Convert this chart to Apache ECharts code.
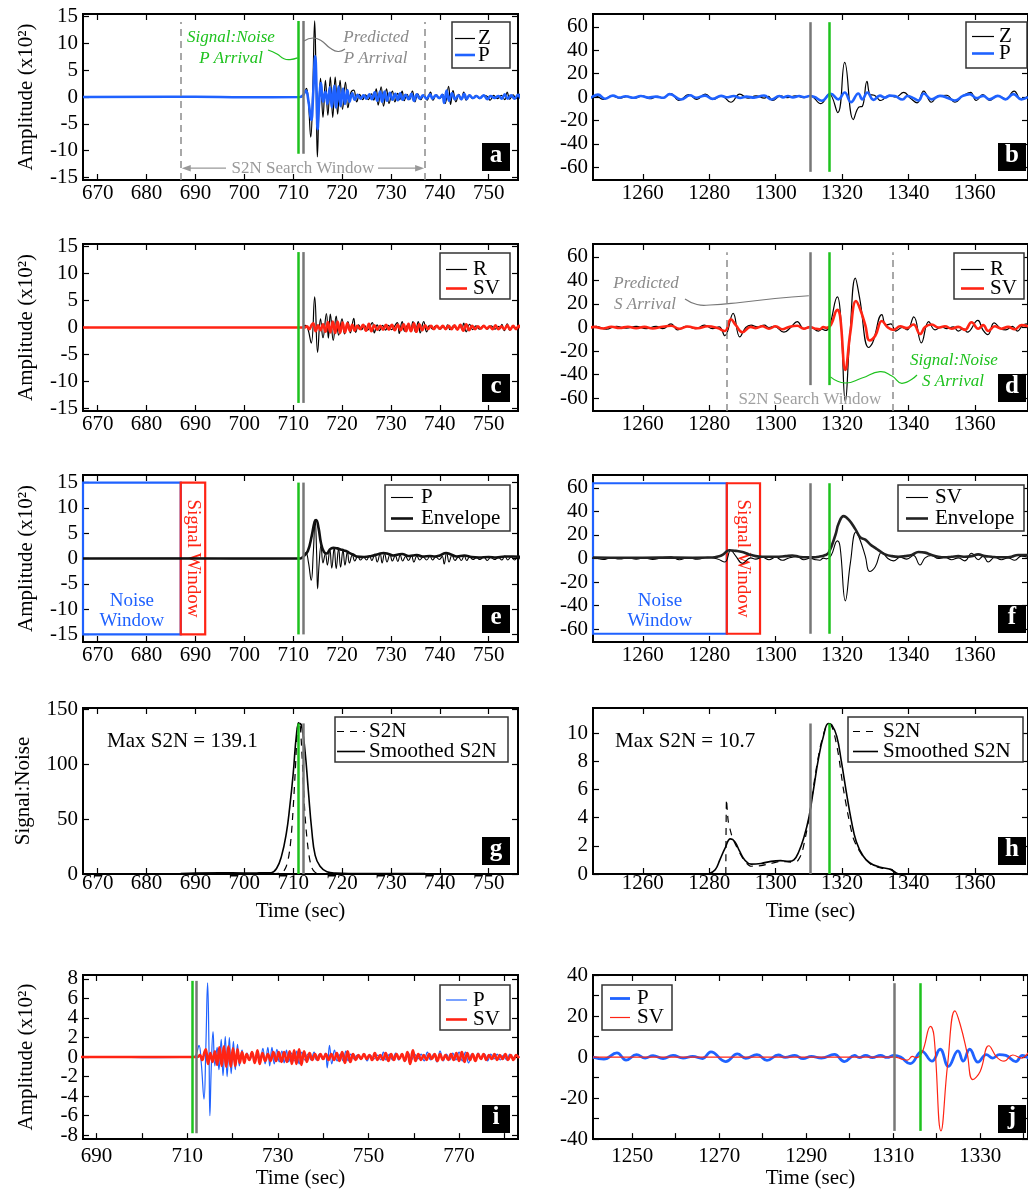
<!DOCTYPE html>
<html>
<head>
<meta charset="utf-8">
<title>P and SV signal-to-noise arrival picks</title>
<script src="https://cdn.jsdelivr.net/npm/echarts@6/dist/echarts.min.js"></script>
<style>
  html, body { margin: 0; padding: 0; background: #fff; }
  #chart { width: 1028px; height: 1190px; }
</style>
</head>
<body>
<div id="chart"></div>
<script>
// ---------------------------------------------------------------------------
// Arrival times and windows (seconds)
// ---------------------------------------------------------------------------
const pPredicted = 712.0;      // predicted P arrival
const pPicked = 711.1;         // signal:noise P arrival
const sPredicted = 1310.3;     // predicted S arrival
const sPicked = 1316.2;        // signal:noise S arrival
const pSearchWindow = [687, 737];
const sSearchWindow = [1285.3, 1335.3];
const pNoiseWindow = [667, 687];
const pSignalWindow = [687, 692];
const sNoiseWindow = [1245, 1285.3];
const sSignalWindow = [1285.3, 1295.3];
const maxS2NP = 139.1;
const maxS2NS = 10.7;

// ---------------------------------------------------------------------------
// Tick values
// ---------------------------------------------------------------------------
const pTimeTicks = [670, 680, 690, 700, 710, 720, 730, 740, 750];
const sTimeTicks = [1260, 1280, 1300, 1320, 1340, 1360];
const pLongTimeTicks = [690, 700, 710, 720, 730, 740, 750, 760, 770, 780];
const pLongTimeLabels = [690, 710, 730, 750, 770];
const sShortTimeTicks = [1250, 1260, 1270, 1280, 1290, 1300, 1310, 1320, 1330, 1340];
const sShortTimeLabels = [1250, 1270, 1290, 1310, 1330];
const ampTicksP = [-15, -10, -5, 0, 5, 10, 15];
const ampTicksS = [-60, -40, -20, 0, 20, 40, 60];
const s2nTicksP = [0, 50, 100, 150];
const s2nTicksS = [0, 2, 4, 6, 8, 10];
const ampTicksRotP = [-8, -6, -4, -2, 0, 2, 4, 6, 8];
const ampLabelsRotP = [-8, -4, 0, 4, 8];
const ampLabelsRotPOdd = [-6, -2, 2, 6];
const ampTicksRotS = [-40, -30, -20, -10, 0, 10, 20, 30, 40];
const ampLabelsRotS = [-40, -20, 0, 20, 40];

// ---------------------------------------------------------------------------
// Traces around the P arrival: [time (s), amplitude (x10^2)]
// ---------------------------------------------------------------------------
const zP = [[667,0],[690,0],[711.5,0],[712.1,0.3],[712.7,1.6],[713.1,-0.8],[713.6,-7.5],[714.0,1.0],[714.4,14.2],[714.7,2.0],[714.95,-11.2],[715.3,-1.0],[715.6,3.5],[716.1,-3.8],[716.6,3.1],[717.1,-3.4],[717.6,3.7],[718.1,-3.8],[718.6,3.7],[719.1,-3.2],[719.6,3.1],[720.1,-2.3],[720.7,2.8],[721.2,-2.0],[721.8,0.8],[722.4,1.3],[723.0,-0.9],[723.6,0.5],[724.2,-0.5],[724.8,0.4],[725.4,-0.5],[726.0,0.6],[726.5,-0.6],[727.0,1.5],[727.4,-1.5],[728.0,1.9],[728.5,-1.7],[729.1,1.5],[729.6,-1.2],[730.3,1.1],[730.8,-0.9],[731.4,0.7],[731.8,-0.5],[732.3,1.1],[732.7,-0.7],[733.3,0.5],[733.8,-0.5],[734.4,1.1],[734.9,-0.9],[735.5,0.6],[736.1,-0.5],[736.8,0.4],[737.4,-0.6],[738.1,0.9],[738.6,-0.6],[739.3,0.4],[740.0,-0.3],[740.6,0.5],[741.1,-1.2],[741.8,2.0],[742.2,-1.4],[742.7,1.2],[743.3,-0.9],[743.9,0.5],[744.4,-0.5],[744.9,0.9],[745.4,-0.6],[746.0,0.4],[746.7,-0.3],[747.4,0.3],[748.1,-0.3],[748.9,0.3],[749.6,0.2],[750.3,-0.6],[751.0,0.3],[751.8,-0.3],[752.6,0.3],[753.3,-0.5],[753.8,0.9],[754.3,-0.4],[755.0,0.4],[755.6,-0.3],[756.3,0.5],[757,-0.2]];

const pComp = [[667,0],[690,0.05],[700,-0.05],[711.4,0],[712.0,0.3],[712.6,1.2],[713.1,-0.6],[713.7,-4.3],[714.1,0.8],[714.5,7.6],[714.8,1.0],[715.0,-6.0],[715.3,-1.2],[715.7,2.6],[716.1,-0.9],[716.6,1.0],[717.0,-1.3],[717.5,1.8],[717.9,-1.9],[718.4,2.1],[718.8,-2.0],[719.3,2.0],[719.7,-1.7],[720.2,1.6],[720.6,-1.3],[721.1,1.3],[721.5,-0.9],[722.1,0.7],[722.6,-0.5],[723.2,0.4],[723.8,-0.3],[724.4,0.3],[725.0,-0.3],[725.6,0.5],[726.1,-0.4],[726.7,0.9],[727.2,-0.7],[727.8,1.0],[728.2,-0.9],[728.7,1.0],[729.2,-0.7],[729.8,0.8],[730.3,-0.5],[730.9,0.6],[731.4,-0.6],[731.9,0.7],[732.4,-0.5],[733.0,0.4],[733.6,-0.4],[734.2,0.6],[734.7,-0.7],[735.3,0.5],[735.9,-0.3],[736.6,0.3],[737.3,-0.3],[738.0,0.5],[738.5,-0.3],[739.2,0.3],[739.9,-0.2],[740.5,0.4],[740.9,-1.1],[741.4,1.2],[741.9,-0.7],[742.5,0.7],[743.1,-0.4],[743.8,0.3],[744.4,-0.4],[745.0,0.6],[745.5,-0.4],[746.1,0.3],[746.8,-0.2],[747.5,0.2],[748.2,-0.2],[749.0,0.3],[749.7,-0.4],[750.4,0.2],[751.2,-0.2],[752.0,0.2],[752.7,-0.3],[753.3,0.5],[753.9,-0.3],[754.6,0.3],[755.3,-0.3],[756.0,0.4],[756.7,-0.3],[757.4,0.3],[758.1,-0.4],[758.8,0.4],[759.5,-0.3],[760.2,0.3],[760.9,-0.2],[761.6,0.3],[762.3,-0.4],[763.0,0.5],[763.7,-0.3],[764.4,0.3],[765.1,-0.5],[765.8,0.6],[766.5,-0.4],[767.2,0.3],[767.9,-0.3],[768.6,0.4],[769.3,-0.3],[770.0,0.5],[770.7,-0.4],[771.4,0.5],[772.1,-0.6],[772.8,0.3],[773.5,-0.3],[774.2,0.4],[774.9,-0.2],[775.6,0.3],[776.3,-0.4],[777.0,0.3],[777.7,-0.2],[778.4,0.3],[779.1,-0.3],[779.8,0.2],[780.5,-0.3],[781.2,0.3],[781.9,-0.2],[782.6,0.2],[783.3,0]];

const rP = [[667,0],[711.8,0],[712.5,0.4],[713.0,-0.2],[713.7,-2.9],[714.4,5.7],[715.0,-4.6],[715.6,1.6],[716.1,-1.9],[716.8,2.6],[717.2,-2.0],[717.6,2.5],[718.2,-2.4],[718.8,2.1],[719.3,-1.4],[720.0,1.6],[720.5,-1.2],[721.2,1.1],[721.7,-1.0],[722.4,1.7],[722.8,-0.9],[723.4,0.5],[724.0,-0.4],[724.6,0.4],[725.2,-0.5],[726.2,0.9],[726.6,-1.0],[727.2,0.5],[727.7,-0.6],[728.3,0.4],[728.9,-0.5],[729.5,0.4],[730.1,-0.4],[731.3,0.9],[731.7,-1.1],[732.3,1.1],[732.8,-0.7],[733.4,0.4],[734.0,-0.4],[734.5,1.1],[735.0,-0.8],[735.6,1.1],[736.0,-1.0],[736.7,1.1],[737.3,-0.8],[737.9,0.4],[738.5,-0.3],[739.2,0.3],[740.0,-0.3],[740.8,0.2],[741.2,-0.2],[741.6,0.5],[742.1,-0.4],[742.8,0.3],[743.5,-0.3],[744.2,0.2],[744.5,-0.3],[744.9,0.8],[745.4,-0.8],[746.1,0.6],[746.7,-0.4],[747.4,0.3],[748.1,-0.3],[748.9,0.3],[749.7,-0.3],[750.5,0.3],[751.3,-0.3],[752.1,0.2],[752.4,-0.2],[752.7,0.6],[753.2,-0.6],[753.8,0.7],[754.3,-0.5],[755.0,0.3],[755.7,-0.3],[756.4,0.4],[757,0]];

const svP = [[667,0],[712.3,0],[712.8,0.2],[713.3,-0.3],[713.8,0.5],[714.1,0.8],[714.6,-0.7],[715.1,0.4],[715.6,-0.5],[716.1,0.6],[716.6,-0.8],[717.1,1.0],[717.6,-0.9],[718.1,1.1],[718.6,-1.0],[719.1,1.1],[719.6,-1.0],[720.1,0.9],[720.6,-0.9],[721.1,0.8],[721.6,-0.6],[722.1,0.5],[722.6,-0.6],[723.1,0.3],[723.7,-0.3],[724.3,0.5],[724.9,-0.6],[725.5,0.7],[726.0,-0.7],[726.6,0.4],[727.2,-0.4],[727.8,0.3],[728.4,-0.4],[729.0,0.5],[729.6,-0.4],[730.2,0.5],[730.8,-0.5],[731.4,0.5],[732.0,-0.5],[732.6,0.6],[733.1,-0.7],[733.6,0.7],[734.1,-0.7],[734.7,0.8],[735.2,-0.8],[735.8,0.6],[736.4,-0.5],[737.0,0.4],[737.6,-0.3],[738.2,0.3],[738.8,-0.3],[739.4,0.3],[740.0,-0.2],[740.6,0.3],[741.2,-0.3],[741.8,0.3],[742.4,-0.3],[743.0,0.4],[743.6,-0.4],[744.2,0.5],[744.8,-0.6],[745.4,0.6],[746.0,-0.5],[746.6,0.3],[747.2,-0.3],[747.8,0.2],[748.4,-0.2],[749.0,0.3],[749.6,-0.2],[750.2,0.2],[750.8,-0.3],[751.4,0.4],[752.0,-0.3],[752.6,0.2],[753.2,-0.3],[753.8,0.4],[754.4,-0.4],[755.0,0.3],[755.6,-0.3],[756.2,0.3],[756.8,-0.2],[757.4,0.3],[758.0,-0.4],[758.6,0.5],[759.2,-0.7],[759.8,0.7],[760.4,-0.4],[761.0,0.3],[761.6,-0.3],[762.2,0.2],[762.8,-0.3],[763.4,0.3],[764.0,-0.2],[764.6,0.3],[765.2,-0.4],[765.8,0.3],[766.4,-0.3],[767.0,0.2],[767.6,-0.3],[768.2,0.3],[768.8,-0.3],[769.4,0.4],[770.0,-0.4],[770.6,0.5],[771.2,-0.5],[771.8,0.4],[772.4,-0.3],[773.0,0.3],[773.6,-0.4],[774.2,0.3],[774.8,-0.2],[775.4,0.3],[776.0,-0.3],[776.6,0.2],[777.2,-0.2],[777.8,0.3],[778.4,-0.3],[779.0,0.2],[779.6,-0.2],[780.2,0.3],[780.8,-0.3],[781.4,0.2],[782.0,-0.3],[782.6,0.2],[783.2,-0.1]];

const envP = [[667,0],[711.5,0],[712,0.3],[713,1.5],[713.8,4.5],[714.4,7.3],[714.7,7.6],[715.2,6],[715.7,3],[716.3,1.3],[716.9,1.0],[717.5,1.8],[718.2,2.1],[719,2.0],[719.7,1.8],[720.4,1.6],[721,1.4],[721.7,1.0],[722.4,0.7],[723,0.4],[724.5,0.3],[726,0.5],[727.5,0.9],[728.5,1.1],[729.5,0.9],[730.5,0.6],[731.5,0.8],[732.3,0.9],[733.5,0.5],[734.5,0.6],[735.3,0.7],[736.5,0.4],[738,0.5],[739,0.4],[740,0.6],[741.3,1.1],[742.3,0.8],[743.5,0.4],[745,0.6],[746.5,0.3],[748,0.2],[750,0.3],[751.5,0.2],[753.3,0.4],[755,0.4],[757,0.3]];

const s2nP = [[687,0.1],[700,0.2],[705,0.3],[707.6,1],[708.6,7],[709.3,22],[709.8,46],[710.4,91],[710.9,134],[711.2,139.1],[711.5,132],[712,91],[712.4,55],[713,25],[713.7,7],[714.5,1.5],[715.5,0.3],[720,0.1],[737,0.1]];
const s2nPSmoothed = [[687,0.3],[690,0.9],[695,1.1],[700,0.9],[703,1.0],[705.5,1.2],[706.6,5],[707.6,16],[708.6,37],[709.3,61],[710,91],[710.7,128],[711.2,137],[711.7,135],[712.4,113],[713.1,76],[713.8,40],[714.5,17],[715.5,7],[716.9,2],[718.7,0.8],[722,0.5],[730,0.4],[737,0.3]];

// ---------------------------------------------------------------------------
// Traces around the S arrival: [time (s), amplitude (x10^2)]
// ---------------------------------------------------------------------------
const zS = [[1245,0.5],[1245.7,1],[1248.1,-2],[1250.6,1],[1253.1,-1],[1255.5,0.5],[1257.5,-1],[1260,1],[1262,-1.5],[1264.5,0.5],[1265.9,-1],[1268.4,3],[1270.9,-3],[1273.8,2],[1276.3,-2],[1278.8,2.5],[1281.3,-2],[1283.7,1],[1286.5,-4.5],[1289.2,2.5],[1291.7,-1],[1294.1,1],[1296.6,-1],[1297.8,0.5],[1299.1,-3],[1301.5,1],[1303.5,-0.5],[1306,1],[1308.5,-0.5],[1310.4,1],[1313.6,-5.7],[1316.1,2.8],[1318.7,-13.3],[1320.8,29.7],[1323.4,-19.3],[1325.1,-8.5],[1326.1,-8],[1327.5,13.3],[1328.5,2],[1329.7,1.5],[1331.7,-3],[1334.2,1.5],[1336.2,0],[1338.6,4],[1340.6,-1],[1342.6,-5],[1344.6,5],[1346.9,-4.5],[1349,1],[1351.5,1.5],[1354,-4.5],[1356.4,1],[1358.7,4],[1360.4,-3],[1362.4,2],[1364.4,-3],[1366.9,1],[1369.3,-1.5],[1371.8,5],[1374,-2],[1376,1]];

const pCompS = [[1241,0],[1243.5,-1],[1246.5,2],[1248.6,-1.5],[1251,1.2],[1253,-0.5],[1254.8,0.7],[1257.1,-0.7],[1259.4,0.8],[1261.7,-0.5],[1263.9,0.3],[1266.2,-0.7],[1268.1,2.5],[1271.5,-2.2],[1274.2,1.5],[1276.1,-0.6],[1278.7,1.2],[1281,-1.6],[1283.6,1],[1285.2,-0.2],[1287.4,0.8],[1289.3,-0.8],[1291.2,0.3],[1293.5,-0.5],[1296.5,1.3],[1298.8,-2.2],[1301.1,0.8],[1302.2,-0.3],[1303.7,0.8],[1305.2,-0.3],[1307.1,0.8],[1308.6,-0.2],[1310.2,0.8],[1311.7,0],[1313.9,-3.2],[1316.6,2.8],[1318.9,-2],[1320.8,3.8],[1322.7,-4.5],[1324.9,3],[1326.1,-2],[1327.6,3.8],[1329.5,-2.5],[1331.4,1.2],[1332.9,-0.5],[1334.4,1.2],[1335.9,0.8],[1338.2,-2.2],[1339.7,0.8],[1341.5,-1],[1343,-3],[1344.6,3],[1347,-2],[1349.5,1],[1352,-1],[1354,-3],[1356.4,1],[1358.5,2.5],[1360.5,-1],[1362.5,1],[1364.4,-2],[1366.9,1],[1369.2,-2],[1371.6,2.5],[1374,-2],[1376,0]];

const rS = [[1245,0.5],[1246,1],[1249,-1.5],[1252,1],[1255,-0.5],[1258,1],[1261,-1],[1264,1],[1266,-1],[1268.5,3],[1270.5,-2],[1273,1],[1276,-1],[1278.5,2],[1281,-1],[1283,0.5],[1284.7,-7],[1287.2,12],[1289.2,-8],[1291,0],[1292.6,2],[1294.5,0.5],[1296.6,2],[1298,0],[1299.6,1],[1302.5,-4],[1304.5,0],[1306.5,5],[1308.5,-1],[1310.4,0.5],[1312.9,-3],[1314,-1.5],[1314.9,-2.5],[1316.1,0],[1318.6,26],[1319.6,8],[1321,-63],[1322.3,-10],[1324,42],[1325.3,25],[1328,-17],[1329.2,-13],[1332,11],[1333.2,2],[1334.7,3],[1336.2,-3],[1338.1,0],[1339.6,-2],[1341.6,9],[1343.9,-13],[1346.1,5],[1348,-2],[1350,0.5],[1351.5,-1],[1353.5,0.5],[1355,-3],[1356.5,-1],[1357.7,-4],[1360.9,6],[1362.4,-2],[1363.9,-6],[1365.8,4],[1367.8,-1],[1369.3,-2],[1371.3,1],[1372.8,-3],[1374.5,2],[1376,3]];

const svS = [[1241,0.3],[1243,-0.5],[1245.5,0.5],[1248,-0.8],[1250.5,0.6],[1253,-0.4],[1255.5,0.6],[1258,-0.6],[1260.5,0.5],[1263,-0.8],[1265.5,0.4],[1268.5,1.5],[1271,-1],[1273.5,0.8],[1276.5,-0.6],[1279.5,1],[1282.5,-0.5],[1284.7,-3],[1286.5,7],[1288,2],[1290,-4],[1292.5,0.5],[1294,-0.5],[1296,1],[1298,-1],[1300,1],[1302,-1.5],[1304,0.5],[1306.5,1.5],[1308.5,-1],[1310.3,0.3],[1312,-1],[1313.3,-1.5],[1314.4,0.3],[1315.3,-0.3],[1316.7,2.5],[1318.6,15],[1319.4,10],[1321,-36],[1322.5,-4],[1324.2,22.5],[1325.4,16],[1327,2],[1328.3,-11],[1330,-7],[1332,5.5],[1333.8,0],[1335.5,-2],[1337.5,1],[1339.5,-0.5],[1341.5,2.5],[1343.5,-5.5],[1345,0.5],[1347,2.5],[1349,0],[1351,1],[1353,-1],[1355,0.5],[1357,-2],[1359,4.5],[1361,-1],[1362.5,2],[1364,-3],[1366,1],[1368,-1],[1370,0.5],[1372,-1.5],[1374,2],[1376,1]];

const envS = [[1245,0.8],[1255,0.6],[1265,0.8],[1275,0.7],[1281,0.8],[1283,2],[1284,3],[1286,7],[1288,6.5],[1290,5.5],[1292,3.5],[1294,2],[1296,1.5],[1300,1.5],[1303,2],[1305,2.5],[1307,1.5],[1309,1],[1311,1],[1313,1.5],[1315,3],[1316,5],[1318,20],[1319,30],[1320.5,36],[1322,33],[1324,25],[1325.5,18],[1327,16],[1328.5,12],[1330,9],[1331.5,6],[1333,3.5],[1335,2],[1337,1.5],[1339,2],[1341,3],[1343,5.5],[1345,5],[1347,3],[1349,1.5],[1351,1],[1353,1.5],[1355,2],[1357,1.5],[1359,2],[1361,3.5],[1363,2],[1365,1.5],[1367,1],[1369,1],[1371,1.5],[1373,3],[1376,3]];

const s2nS = [[1285.0,0],[1285.2,5.3],[1285.7,3.8],[1286.7,2.8],[1287.7,2.2],[1289.2,1.5],[1290.7,0.9],[1292.6,0.55],[1295.6,0.6],[1298.6,0.75],[1301.5,0.9],[1304.5,0.85],[1306.5,0.9],[1307.9,1.5],[1309.3,3.0],[1310.4,4.5],[1311.9,7],[1313.4,9],[1314.9,10.3],[1316.2,10.7],[1317.4,10.2],[1318.9,8.5],[1320.3,6.2],[1321.8,4.2],[1323.3,2.6],[1324.8,1.8],[1326.8,1.1],[1329.2,0.6],[1332.2,0.4],[1335.2,0.3],[1335.7,0]];
const s2nSSmoothed = [[1279.8,0],[1281.8,0.3],[1283.2,1.0],[1284.7,1.8],[1286.4,2.5],[1287.7,2.3],[1289.2,1.6],[1290.7,1.0],[1292.6,0.7],[1295.6,0.75],[1298.6,0.9],[1301.5,0.95],[1304,0.9],[1305.5,1.0],[1307,1.6],[1308.5,2.6],[1310,4.0],[1311.4,6],[1312.9,8.2],[1314.4,9.8],[1315.9,10.7],[1316.9,10.6],[1318.4,9.8],[1319.8,8],[1321.3,5.8],[1322.8,3.8],[1324.3,2.3],[1326.3,1.3],[1328.3,0.8],[1331.2,0.5],[1334.2,0.35],[1336.2,0.1],[1337.1,0]];

// SV as shown after the rotation step: muted before the predicted S arrival
const svSRotated = [[1241,0],[sPredicted,0]].concat(svS.filter(d => d[0] > sPredicted));

// ---------------------------------------------------------------------------
// Styling and layout
// ---------------------------------------------------------------------------
const FONT = '"Liberation Serif", "Times New Roman", serif';
const BLUE = '#1f62ff';
const RED = '#ff2414';
const GREEN = '#1ec21e';
const GRAY = '#777777';
const TEXT_GRAY = '#8a8a8a';
const COL = [{ left: 83, width: 435 }, { left: 593, width: 441 }];
const ROW_TOP = [14, 244, 475, 708, 975];
const ROW_H = [166, 167, 167, 166, 167];
const LABEL_MARGIN = [3, 3, 3, -1, 7];

function vline(x, y0, y1, color, width, dashed) {
  return { x, y0, y1, color, width: width || 2.5, dashed: !!dashed };
}

const panels = [
  { key: 'a', col: 0, row: 0, xr: [667, 756], xt: pTimeTicks, xl: pTimeTicks, yr: [-15.5, 15.5], yt: ampTicksP, yl: ampTicksP, yName: 'Amplitude (x10²)', yGap: 46,
    series: [{ name: 'Z', data: zP, color: '#000', width: 1.2 }, { name: 'P', data: pComp, color: BLUE, width: 2.6 }],
    lines: [vline(pSearchWindow[0], -15.5, 14, '#8c8c8c', 1.5, true), vline(pSearchWindow[1], -15.5, 14, '#8c8c8c', 1.5, true), vline(pPredicted, -10.6, 14.2, GRAY), vline(pPicked, -10.6, 14.2, GREEN)] },
  { key: 'b', col: 1, row: 0, xr: [1245, 1376], xt: sTimeTicks, xl: sTimeTicks, yr: [-71, 71], yt: ampTicksS, yl: ampTicksS,
    series: [{ name: 'Z', data: zS, color: '#000', width: 1.2 }, { name: 'P', data: pCompS, color: BLUE, width: 2.6 }],
    lines: [vline(sPredicted, -64, 64, GRAY), vline(sPicked, -64, 64, GREEN)] },
  { key: 'c', col: 0, row: 1, xr: [667, 756], xt: pTimeTicks, xl: pTimeTicks, yr: [-15.5, 15.5], yt: ampTicksP, yl: ampTicksP, yName: 'Amplitude (x10²)', yGap: 46,
    series: [{ name: 'R', data: rP, color: '#000', width: 1.2 }, { name: 'SV', data: svP, color: RED, width: 2.6 }],
    lines: [vline(pPredicted, -14, 14, GRAY), vline(pPicked, -14, 14, GREEN)] },
  { key: 'd', col: 1, row: 1, xr: [1245, 1376], xt: sTimeTicks, xl: sTimeTicks, yr: [-71, 71], yt: ampTicksS, yl: ampTicksS,
    series: [{ name: 'R', data: rS, color: '#000', width: 1.2 }, { name: 'SV', data: svS, color: RED, width: 2.6 }],
    lines: [vline(sSearchWindow[0], -71, 64, '#8c8c8c', 1.5, true), vline(sSearchWindow[1], -71, 64, '#8c8c8c', 1.5, true), vline(sPredicted, -49, 64, GRAY), vline(sPicked, -49, 64, GREEN)] },
  { key: 'e', col: 0, row: 2, xr: [667, 756], xt: pTimeTicks, xl: pTimeTicks, yr: [-16.5, 16.5], yt: ampTicksP, yl: ampTicksP, yName: 'Amplitude (x10²)', yGap: 46,
    series: [{ name: 'P', data: pComp, color: '#000', width: 1.1 }, { name: 'Envelope', data: envP, color: '#111', width: 2.6 }],
    lines: [vline(pPredicted, -15, 15, GRAY), vline(pPicked, -15, 15, GREEN)],
    windows: { noise: pNoiseWindow, signal: pSignalWindow, y: 15 } },
  { key: 'f', col: 1, row: 2, xr: [1245, 1376], xt: sTimeTicks, xl: sTimeTicks, yr: [-71, 71], yt: ampTicksS, yl: ampTicksS,
    series: [{ name: 'SV', data: svS, color: '#000', width: 1.1 }, { name: 'Envelope', data: envS, color: '#222', width: 2.6 }],
    lines: [vline(sPredicted, -64, 64, GRAY), vline(sPicked, -64, 64, GREEN)],
    windows: { noise: sNoiseWindow, signal: sSignalWindow, y: 64 } },
  { key: 'g', col: 0, row: 3, xr: [667, 756], xt: pTimeTicks, xl: pTimeTicks, yr: [0, 151], yt: s2nTicksP, yl: s2nTicksP, yName: 'Signal:Noise', yGap: 49, xName: 'Time (sec)', xGap: 27,
    series: [{ name: 'S2N', data: s2nP, color: '#000', width: 1.2, dash: [7, 6], smooth: 0.3 }, { name: 'Smoothed S2N', data: s2nPSmoothed, color: '#000', width: 1.6 }],
    lines: [vline(pPredicted, 0, 137, GRAY), vline(pPicked, 0, 137, GREEN)] },
  { key: 'h', col: 1, row: 3, xr: [1245, 1376], xt: sTimeTicks, xl: sTimeTicks, yr: [0, 11.8], yt: s2nTicksS, yl: s2nTicksS, xName: 'Time (sec)', xGap: 27,
    series: [{ name: 'S2N', data: s2nS, color: '#000', width: 1.2, dash: [7, 6], smooth: 0.2 }, { name: 'Smoothed S2N', data: s2nSSmoothed, color: '#000', width: 1.6 }],
    lines: [vline(sPredicted, 0, 10.7, GRAY), vline(sPicked, 0, 10.7, GREEN)] },
  { key: 'i', col: 0, row: 4, xr: [687, 783], xt: pLongTimeTicks, xl: pLongTimeLabels, yr: [-8.4, 8.4], yt: ampTicksRotP, yl: ampLabelsRotP, yl2: ampLabelsRotPOdd, yName: 'Amplitude (x10²)', yGap: 46, xName: 'Time (sec)', xGap: 25,
    series: [{ name: 'P', data: pComp, color: BLUE, width: 1.2 }, { name: 'SV', data: svP, color: RED, width: 2.6 }],
    lines: [vline(pPredicted, -7.8, 7.8, GRAY), vline(pPicked, -7.8, 7.8, GREEN)] },
  { key: 'j', col: 1, row: 4, xr: [1241, 1341], xt: sShortTimeTicks, xl: sShortTimeLabels, yr: [-40, 40], yt: ampTicksRotS, yl: ampLabelsRotS, xName: 'Time (sec)', xGap: 25,
    series: [{ name: 'P', data: pCompS, color: BLUE, width: 2.8 }, { name: 'SV', data: svSRotated, color: RED, width: 1.2 }],
    lines: [vline(sPredicted, -36, 36, GRAY), vline(sPicked, -36, 36, GREEN)] }
];

// legend boxes: [x, y, w, h], sample line x-range, text x, row centres
const legends = {
  a: { box: [452, 22, 58, 46], line: [455, 475], tx: 478, rows: [38.5, 55] },
  b: { box: [966, 22, 61, 46], line: [972, 994], tx: 999, rows: [36.5, 53.5] },
  c: { box: [440, 253, 70, 46], line: [446, 467], tx: 473, rows: [269.5, 288.5] },
  d: { box: [954, 253, 70, 46], line: [961, 984], tx: 990, rows: [269.5, 288.5] },
  e: { box: [385, 485, 125, 46], line: [391, 413], tx: 421, rows: [497.5, 518.5] },
  f: { box: [898, 485, 126, 46], line: [906, 928], tx: 935, rows: [497.5, 518.5] },
  g: { box: [335, 717, 173, 45], line: [337, 365], tx: 369, rows: [731.5, 751.5] },
  h: { box: [848, 717, 175, 45], line: [853, 878], tx: 883, rows: [731.5, 751.5] },
  i: { box: [440, 985, 70, 45], line: [446, 467], tx: 473, rows: [1000, 1019.5] },
  j: { box: [602, 985, 70, 45], line: [610, 630], tx: 637, rows: [998.5, 1017.5] }
};

// ---------------------------------------------------------------------------
// Build the option
// ---------------------------------------------------------------------------
const grids = [], xAxes = [], yAxes = [], series = [];
const axisIdx = {};
const plainNumber = v => String(v);

panels.forEach((p, gi) => {
  const col = COL[p.col];
  grids.push({ left: col.left, width: col.width, top: ROW_TOP[p.row], height: ROW_H[p.row],
    show: true, borderColor: '#000', borderWidth: 2, backgroundColor: 'rgba(0,0,0,0)' });
  const tickStyle = { show: true, inside: true, length: 6, lineStyle: { color: '#000', width: 1.2 } };
  const labelStyle = { fontFamily: FONT, fontSize: 21, lineHeight: 17, color: '#000', formatter: plainNumber,
    showMinLabel: true, showMaxLabel: true, hideOverlap: false };
  const noLine = { show: false, onZero: false };
  const xb = xAxes.length, yb = yAxes.length;
  axisIdx[p.key] = { x: xb, y: yb, grid: gi };
  xAxes.push({ gridIndex: gi, type: 'value', position: 'bottom', min: p.xr[0], max: p.xr[1],
    axisLine: noLine, splitLine: { show: false },
    axisTick: Object.assign({ customValues: p.xt }, tickStyle),
    axisLabel: Object.assign({ customValues: p.xl, margin: LABEL_MARGIN[p.row] + 2 }, labelStyle),
    name: p.xName || '', nameLocation: 'middle', nameGap: p.xGap || 25,
    nameTextStyle: { fontFamily: FONT, fontSize: 21, color: '#000' } });
  xAxes.push({ gridIndex: gi, type: 'value', position: 'top', min: p.xr[0], max: p.xr[1],
    axisLine: noLine, splitLine: { show: false }, axisLabel: { show: false },
    axisTick: Object.assign({ customValues: p.xt }, tickStyle) });
  yAxes.push({ gridIndex: gi, type: 'value', position: 'left', min: p.yr[0], max: p.yr[1],
    axisLine: noLine, splitLine: { show: false },
    axisTick: Object.assign({ customValues: p.yt }, tickStyle),
    axisLabel: Object.assign({ customValues: p.yl, margin: 5 }, labelStyle),
    name: p.yName || '', nameLocation: 'middle', nameGap: p.yGap || 40,
    nameTextStyle: { fontFamily: FONT, fontSize: 21, color: '#000' } });
  yAxes.push({ gridIndex: gi, type: 'value', position: 'right', min: p.yr[0], max: p.yr[1],
    axisLine: noLine, splitLine: { show: false }, axisLabel: { show: false },
    axisTick: Object.assign({ customValues: p.yt }, tickStyle) });
  if (p.yl2) {
    // densely spaced labels are split over two coincident left axes so none is dropped
    yAxes.push({ gridIndex: gi, type: 'value', position: 'left', offset: 0, min: p.yr[0], max: p.yr[1],
      axisLine: noLine, splitLine: { show: false }, axisTick: { show: false },
      axisLabel: Object.assign({ customValues: p.yl2, margin: 5 }, labelStyle) });
  }

  p.series.forEach((s, si) => {
    const entry = {
      type: 'line', name: p.key + '-' + s.name, xAxisIndex: xb, yAxisIndex: yb,
      data: s.data, symbol: 'none', smooth: s.smooth != null ? s.smooth : 0.45,
      lineStyle: { color: s.color, width: s.width, type: s.dash || 'solid' },
      silent: true, animation: false, z: 3 + si
    };
    if (si === p.series.length - 1) {
      entry.markLine = {
        silent: true, symbol: ['none', 'none'], animation: false, label: { show: false },
        data: p.lines.map(l => [
          { coord: [l.x, l.y0], lineStyle: { color: l.color, width: l.width, type: l.dashed ? [7, 5] : 'solid' } },
          { coord: [l.x, l.y1] }
        ])
      };
    }
    if (si === 0 && p.windows) {
      const w = p.windows;
      entry.markArea = {
        silent: true, animation: false,
        data: [
          [{ coord: [w.noise[0], -w.y], itemStyle: { color: 'rgba(0,0,0,0)', borderColor: BLUE, borderWidth: 2.2 },
             label: { show: true, position: 'insideBottom', distance: 4, formatter: 'Noise\nWindow', color: BLUE, fontFamily: FONT, fontSize: 19, lineHeight: 20 } },
           { coord: [w.noise[1], w.y] }],
          [{ coord: [w.signal[0], -w.y], itemStyle: { color: 'rgba(0,0,0,0)', borderColor: RED, borderWidth: 2.2 },
             label: { show: true, position: 'inside', rotate: -90, formatter: 'Signal Window', color: RED, fontFamily: FONT, fontSize: 19 } },
           { coord: [w.signal[1], w.y] }]
        ]
      };
    }
    series.push(entry);
  });
});

const chart = echarts.init(document.getElementById('chart'), null, { renderer: 'canvas' });
chart.setOption({
  animation: false,
  backgroundColor: '#fff',
  grid: grids, xAxis: xAxes, yAxis: yAxes, series: series
});

// ---------------------------------------------------------------------------
// Legends, panel letters and annotations
// ---------------------------------------------------------------------------
const px = (key, t, v) => chart.convertToPixel({ xAxisIndex: axisIdx[key].x, yAxisIndex: axisIdx[key].y }, [t, v]);
const els = [];

function text(str, x, y, opts) {
  opts = opts || {};
  els.push({ type: 'text', x: x, y: y, rotation: opts.rotation || 0, z: 20, silent: true,
    style: { text: str, x: 0, y: 0, fill: opts.color || '#000',
      font: (opts.italic ? 'italic ' : '') + (opts.bold ? 'bold ' : '') + (opts.size || 21) + 'px ' + FONT,
      align: opts.align || 'center', verticalAlign: 'middle' } });
}
function curve(points, color) {
  els.push({ type: 'polyline', z: 20, silent: true, shape: { points: points, smooth: 0.5 },
    style: { stroke: color, lineWidth: 1.2, fill: null } });
}

panels.forEach(p => {
  const lg = legends[p.key];
  els.push({ type: 'rect', z: 18, silent: true, shape: { x: lg.box[0], y: lg.box[1], width: lg.box[2], height: lg.box[3] },
    style: { fill: '#fff', stroke: '#333', lineWidth: 1.5 } });
  p.series.forEach((s, i) => {
    const yy = lg.rows[i];
    els.push({ type: 'line', z: 19, silent: true, shape: { x1: lg.line[0], y1: yy, x2: lg.line[1], y2: yy },
      style: { stroke: s.color, lineWidth: s.width, lineDash: s.dash || null } });
    text(s.name, lg.tx, yy, { align: 'left' });
  });
  // panel letter
  const col = COL[p.col];
  const right = col.left + col.width, bottom = ROW_TOP[p.row] + ROW_H[p.row];
  els.push({ type: 'rect', z: 18, silent: true, shape: { x: right - 36, y: bottom - 37, width: 28, height: 28 }, style: { fill: '#000' } });
  text(p.key, right - 22, bottom - 24, { bold: true, size: 25, color: '#fff' });
});

// panel a: arrival labels and the search window
const aGreen = px('a', pPicked, 7.3), aGray = px('a', pPredicted, 10.5);
const aWin0 = px('a', pSearchWindow[0], -13.3), aWin1 = px('a', pSearchWindow[1], -13.3);
text('Signal:Noise', 231, 37.5, { italic: true, size: 17, color: GREEN });
text('P Arrival', 231, 58.5, { italic: true, size: 17, color: GREEN });
curve([[268, 50], [277, 54], [284, 58.8], [290, 59.6], [aGreen[0] - 1, aGreen[1]]], GREEN);
text('Predicted', 376, 37.5, { italic: true, size: 17, color: TEXT_GRAY });
text('P Arrival', 375.5, 58.5, { italic: true, size: 17, color: TEXT_GRAY });
curve([[aGray[0] + 1, 41], [313, 38], [321, 40.5], [330, 48], [338, 51.5], [345, 49]], '#777');
const wy = aWin0[1];
text('S2N Search Window', (aWin0[0] + aWin1[0]) / 2, wy, { size: 17, color: '#999' });
els.push({ type: 'line', z: 20, silent: true, shape: { x1: aWin0[0] + 6, y1: wy, x2: 226, y2: wy }, style: { stroke: '#999', lineWidth: 1.3 } });
els.push({ type: 'polygon', z: 20, silent: true, shape: { points: [[aWin0[0] + 1, wy], [aWin0[0] + 10, wy - 3.2], [aWin0[0] + 10, wy + 3.2]] }, style: { fill: '#999' } });
els.push({ type: 'line', z: 20, silent: true, shape: { x1: 378, y1: wy, x2: aWin1[0] - 6, y2: wy }, style: { stroke: '#999', lineWidth: 1.3 } });
els.push({ type: 'polygon', z: 20, silent: true, shape: { points: [[aWin1[0] - 1, wy], [aWin1[0] - 10, wy - 3.2], [aWin1[0] - 10, wy + 3.2]] }, style: { fill: '#999' } });

// panel d: arrival labels and the search window
const dGray = px('d', sPredicted, 27), dGreen = px('d', sPicked, -42);
const dWin0 = px('d', sSearchWindow[0], -61), dWin1 = px('d', sSearchWindow[1], -61);
text('Predicted', 646, 283.5, { italic: true, size: 17, color: TEXT_GRAY });
text('S Arrival', 645, 305, { italic: true, size: 17, color: TEXT_GRAY });
curve([[685, 299], [697, 304.5], [710, 305], [740, 302.5], [775, 298.5], [dGray[0] - 1, dGray[1]]], '#777');
text('S2N Search Window', (dWin0[0] + dWin1[0]) / 2, dWin0[1], { size: 17, color: '#a0a0a0' });
text('Signal:Noise', 954, 361, { italic: true, size: 17, color: GREEN });
text('S Arrival', 953, 381.7, { italic: true, size: 17, color: GREEN });
curve([[dGreen[0] + 1, dGreen[1]], [845, 383], [862, 378], [880, 371.7], [892, 376], [902, 383.3], [917, 375]], GREEN);

// panels g and h: maximum signal-to-noise
text('Max S2N = ' + maxS2NP.toFixed(1), 107, 741.7, { align: 'left' });
text('Max S2N = ' + maxS2NS.toFixed(1), 615, 741.7, { align: 'left' });

chart.setOption({ graphic: { elements: els } });
</script>
</body>
</html>
